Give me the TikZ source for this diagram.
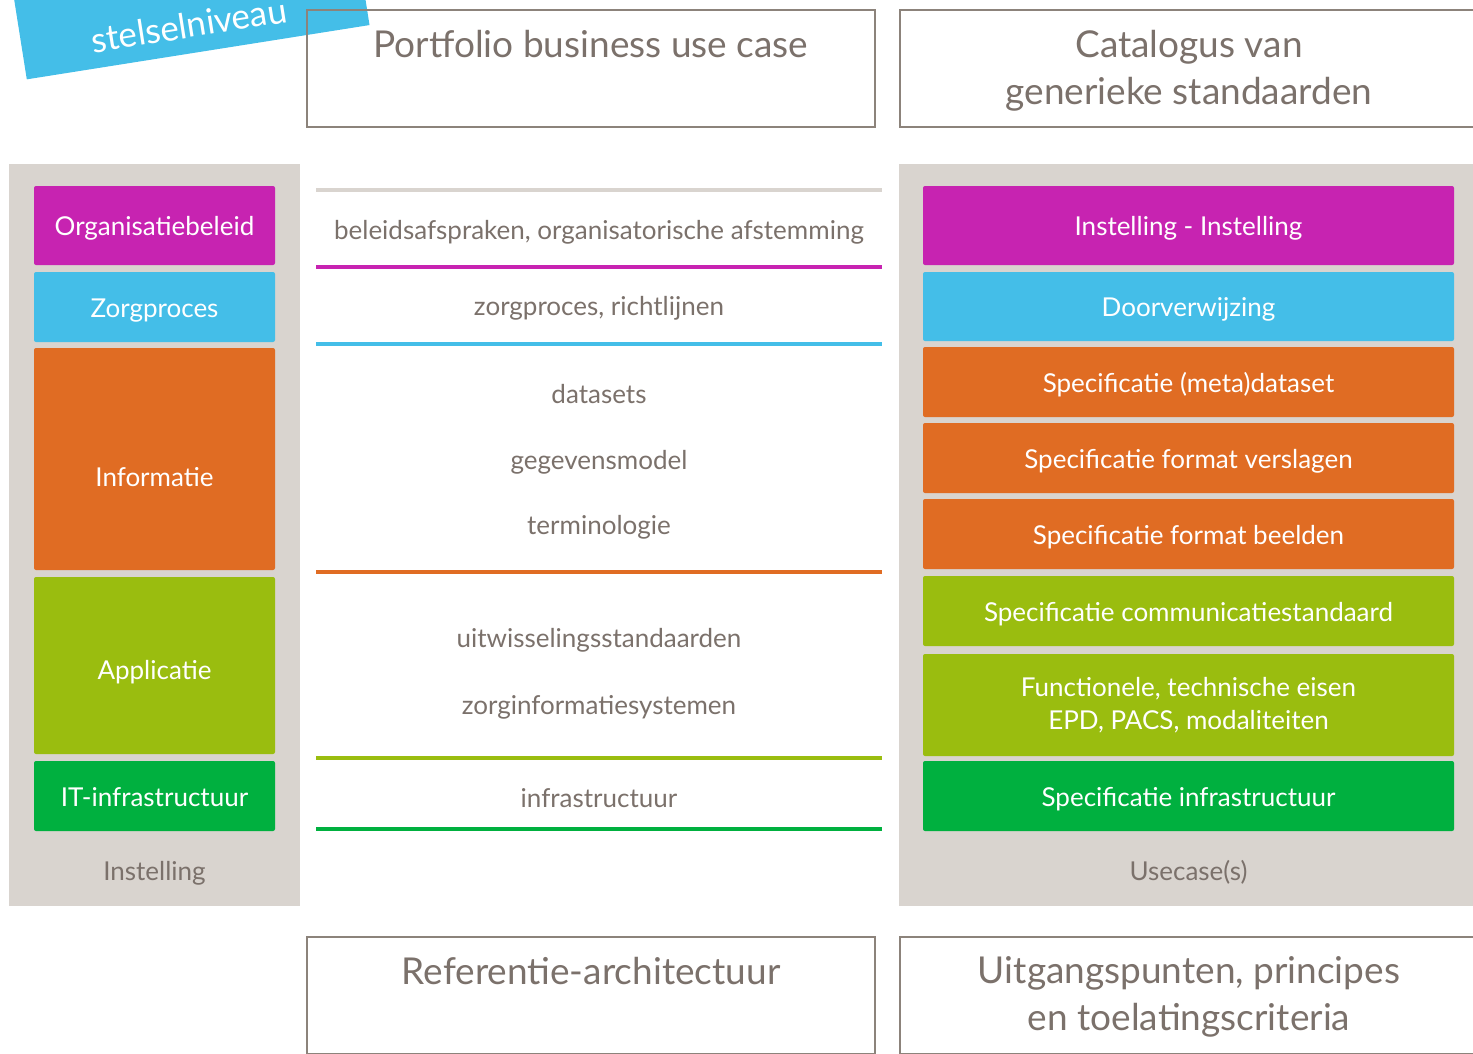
\documentclass[tikz,border=0pt]{standalone}
\usepackage{fontspec}
\setmainfont{Lato}
\usetikzlibrary{positioning}
\definecolor{paars}{HTML}{C723B1}
\definecolor{blauw}{HTML}{44BEE8}
\definecolor{oranje}{HTML}{E06C23}
\definecolor{geelgroen}{HTML}{9ABD0F}
\definecolor{groen}{HTML}{00B03F}
\definecolor{paneel}{HTML}{D9D4CF}
\definecolor{tekst}{HTML}{7B716B}
\definecolor{rand}{HTML}{8C837B}

\begin{document}
\begin{tikzpicture}[x=1pt, y=-1pt,
  every node/.style = {font=\fontsize{26}{30}\selectfont, inner sep=0pt},
  regel/.style = {text height=25pt, text depth=5pt},
  bar/.style = {fill=#1, text=white, rounded corners=2pt, minimum height=70, regel},
  lbar/.style = {bar=#1, minimum width=241},
  rbar/.style = {bar=#1, minimum width=531},
  kader/.style = {draw=rand, line width=2.5pt, minimum height=117},
  titel/.style = {text=tekst, align=center, font=\fontsize{37}{47}\selectfont},
  grijs/.style = {text=tekst, regel}
]
\useasboundingbox (0,0) rectangle (1473,1053);

% banner
\node[fill=blauw, rotate=9, minimum width=347, minimum height=130] (banner) at (188,-12) {};
\node[rotate=9, text=white, font=\fontsize{35}{40}\selectfont] (niveau) at (189,25) {stelselniveau};

% kaders boven en onder
\node[kader, minimum width=568] (portfolio) at (591,68.5) {};
\node[titel, below=21pt of portfolio.north] (portfoliotxt) {Portfolio business use case};
\node[kader, minimum width=578] (catalogus) at (1189,68.5) {};
\node[titel, below=21pt of catalogus.north] (catalogustxt) {Catalogus van\\generieke standaarden};
\node[kader, minimum width=568] (referentie) at (591,995.5) {};
\node[titel, below=21pt of referentie.north] (referentietxt) {Referentie-architectuur};
\node[kader, minimum width=578] (uitgangspunten) at (1189,995.5) {};
\node[titel, below=21pt of uitgangspunten.north] (uitgangspuntentxt) {Uitgangspunten, principes\\en toelatingscriteria};

% panelen
\node[fill=paneel, minimum width=291, minimum height=742] (instelling) at (154.5,535) {};
\node[fill=paneel, minimum width=580, minimum height=742] (usecases) at (1189,535) {};
\node[grijs] (instellingtxt) at (154.5,870) {Instelling};
\node[grijs] (usecasestxt) at (1188.5,870) {Usecase(s)};

% links
\node[lbar=paars, minimum height=79] (org) at (154.5,225.5) {Organisatiebeleid};
\node[lbar=blauw] (zorg) at (154.5,307) {Zorgproces};
\node[lbar=oranje, minimum height=222, label={[text=white, regel, yshift=-17pt]center:Informatie}] (info) at (154.5,459) {};
\node[lbar=geelgroen, minimum height=177, label={[text=white, regel, yshift=-4pt]center:Applicatie}] (app) at (154.5,665.5) {};
\node[lbar=groen] (it) at (154.5,796) {IT-infrastructuur};

% midden
\foreach \y/\kleur in {190/paneel, 267/paars, 344/blauw, 572/oranje, 758/geelgroen, 829/groen}
  \draw[line width=4pt, \kleur] (316,\y) -- (882,\y);
\node[grijs] (beleid) at (599,229) {beleidsafspraken, organisatorische afstemming};
\node[grijs] (richtlijnen) at (599,305) {zorgproces, richtlijnen};
\node[grijs] (datasets) at (599,393) {datasets};
\node[grijs] (model) at (599,459) {gegevensmodel};
\node[grijs] (terminologie) at (599,524) {terminologie};
\node[grijs] (uitwisseling) at (599,637) {uitwisselingsstandaarden};
\node[grijs] (systemen) at (599,704) {zorginformatiesystemen};
\node[grijs] (infra) at (599,797) {infrastructuur};

% rechts
\node[rbar=paars, minimum height=79] (instinst) at (1188.5,225.5) {Instelling - Instelling};
\node[rbar=blauw, minimum height=69] (verwijzing) at (1188.5,306.5) {Doorverwijzing};
\node[rbar=oranje] (metadata) at (1188.5,382) {Specificatie (meta)dataset};
\node[rbar=oranje] (verslagen) at (1188.5,458) {Specificatie format verslagen};
\node[rbar=oranje] (beelden) at (1188.5,534) {Specificatie format beelden};
\node[rbar=geelgroen] (communicatie) at (1188.5,611) {Specificatie communicatiestandaard};
\node[rbar=geelgroen, minimum height=102, text height=, text depth=, align=center,
  font=\fontsize{26}{33}\selectfont] (eisen) at (1188.5,705) {Functionele, technische eisen\\EPD, PACS, modaliteiten};
\node[rbar=groen] (specinfra) at (1188.5,796) {Specificatie infrastructuur};
\end{tikzpicture}
\end{document}
